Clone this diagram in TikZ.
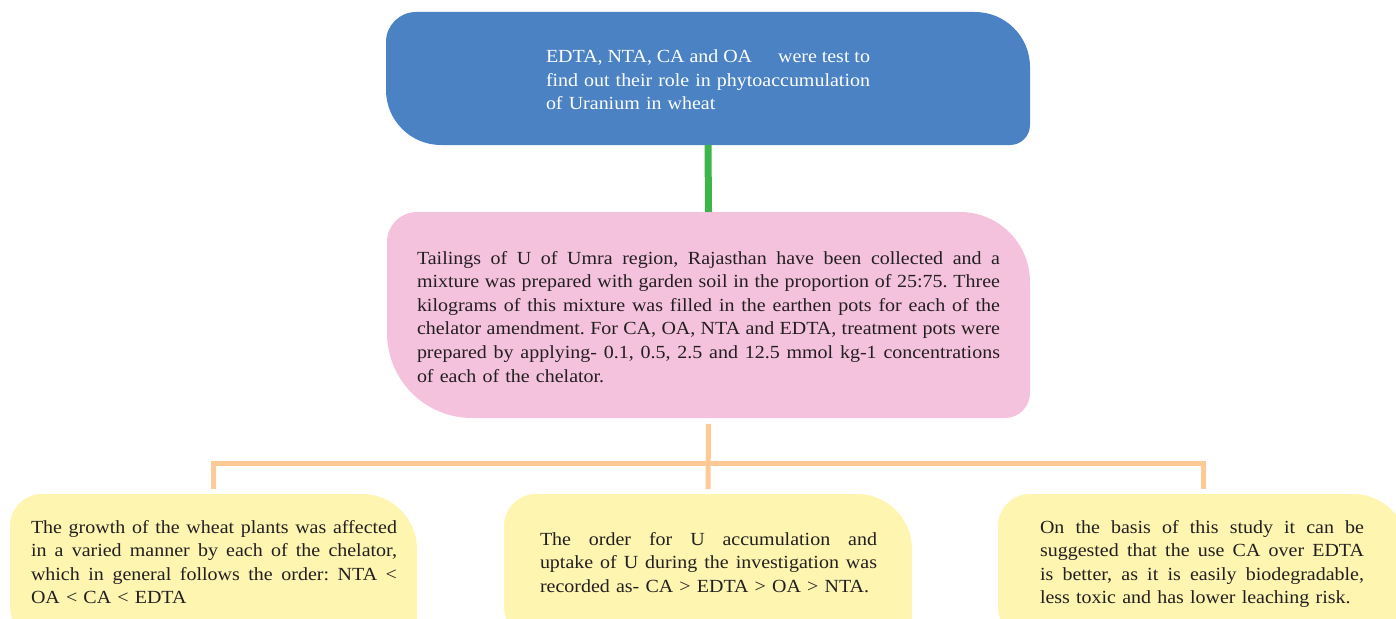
\documentclass[tikz,border=0pt]{standalone}
\usepackage{fontspec}
\setmainfont{Liberation Serif}[FakeStretch=1.08]
\usetikzlibrary{calc}
\definecolor{topblue}{HTML}{4A82C4}
\definecolor{linkgreen}{HTML}{3DB54A}
\definecolor{boxpink}{HTML}{F4C2DD}
\definecolor{linkorange}{HTML}{FDC995}
\definecolor{boxyellow}{HTML}{FDF5B0}
\definecolor{textdark}{HTML}{231F20}
% fill a rectangle-like node with four individually rounded corners
% #1 colour, #2 node, #3 top-left, #4 top-right, #5 bottom-right, #6 bottom-left radius
\newcommand\cornerfill[6]{%
  \fill[#1] ([xshift=#3]#2.north west) -- ([xshift=-#4]#2.north east)
    arc[start angle=90,end angle=0,radius=#4] -- ([yshift=#5]#2.south east)
    arc[start angle=0,end angle=-90,radius=#5] -- ([xshift=#6]#2.south west)
    arc[start angle=270,end angle=180,radius=#6] -- ([yshift=-#3]#2.north west)
    arc[start angle=180,end angle=90,radius=#3] -- cycle;}
% one justified line of a given width
\newcommand\jl[2]{\leavevmode\hbox to #1{\spaceskip=\fontdimen2\font plus 1fil minus \fontdimen4\font\relax #2}\\}
\begin{document}
\begin{tikzpicture}[x=1pt,y=1pt,
  shapebox/.style={draw=none,inner sep=0pt,outer sep=0pt},
  bodytext/.style={inner sep=0pt,outer sep=0pt,align=left,anchor=base,
    text=textdark,font=\fontsize{18.5}{23.6}\selectfont\frenchspacing},
  toptext/.style={bodytext,text=white,font=\fontsize{18.5}{23.5}\selectfont\frenchspacing},
  greenlink/.style={draw=linkgreen,line width=7pt},
  orangelink/.style={draw=linkorange,line width=5pt}]
\useasboundingbox (0,0) rectangle (1396,-618);
\clip (0,0) rectangle (1396,-618);

% box outlines (invisible nodes giving the size)
\node[shapebox,minimum width=644pt,minimum height=133pt] (top) at (708,-78.5) {};
\node[shapebox,minimum width=643pt,minimum height=206pt] (pink) at (708.5,-315) {};
\node[shapebox,minimum width=407pt,minimum height=170pt] (lbox) at (213.5,-579) {};
\node[shapebox,minimum width=408pt,minimum height=170pt] (mbox) at (708,-579) {};
\node[shapebox,minimum width=410pt,minimum height=170pt] (rbox) at (1203,-579) {};
\coordinate (hub) at (708,-463);

\cornerfill{topblue}{top}{30pt}{55pt}{20pt}{55pt}
\cornerfill{boxpink}{pink}{30pt}{70pt}{25pt}{85pt}
\cornerfill{boxyellow}{lbox}{32pt}{55pt}{20pt}{60pt}
\cornerfill{boxyellow}{mbox}{32pt}{55pt}{20pt}{60pt}
\cornerfill{boxyellow}{rbox}{32pt}{55pt}{20pt}{60pt}

% connectors
\draw[greenlink] (top.south) -- (pink.north);
\draw[orangelink,shorten <=6pt,shorten >=5pt] (pink.south) -- (mbox.north);
\draw[orangelink,shorten <=5pt,shorten >=5pt] (lbox.north) -- (lbox.north |- hub)
  -- (rbox.north |- hub) -- (rbox.north);

% texts
\node[toptext,text width=324pt] (toptxt) at (708,-63)
  {\jl{324pt}{EDTA, NTA, CA and OA\hspace{26pt plus 1fil}were test to}
   \jl{324pt}{find out their role in phytoaccumulation}
   of Uranium in wheat};
\node[bodytext,text width=583pt] (pinktxt) at (708.5,-264)
  {\jl{583pt}{Tailings of U of Umra region, Rajasthan have been collected and a}
   \jl{583pt}{mixture was prepared with garden soil in the proportion of 25:75. Three}
   \jl{583pt}{kilograms of this mixture was filled in the earthen pots for each of the}
   \jl{583pt}{chelator amendment. For CA, OA, NTA and EDTA, treatment pots were}
   \jl{583pt}{prepared by applying- 0.1, 0.5, 2.5 and 12.5 mmol kg-1 concentrations}
   of each of the chelator.};
\node[bodytext,text width=366pt] (ltxt) at (214,-533)
  {\jl{366pt}{The growth of the wheat plants was affected}
   \jl{366pt}{in a varied manner by each of the chelator,}
   \jl{366pt}{which in general follows the order: NTA <}
   OA < CA < EDTA};
\node[bodytext,text width=337pt] (mtxt) at (708.5,-545)
  {\jl{337pt}{The order for U accumulation and}
   \jl{337pt}{uptake of U during the investigation was}
   recorded as- CA > EDTA > OA > NTA.};
\node[bodytext,text width=324pt] (rtxt) at (1202,-533)
  {\jl{324pt}{On the basis of this study it can be}
   \jl{324pt}{suggested that the use CA over EDTA}
   \jl{324pt}{is better, as it is easily biodegradable,}
   less toxic and has lower leaching risk.};
\end{tikzpicture}
\end{document}
